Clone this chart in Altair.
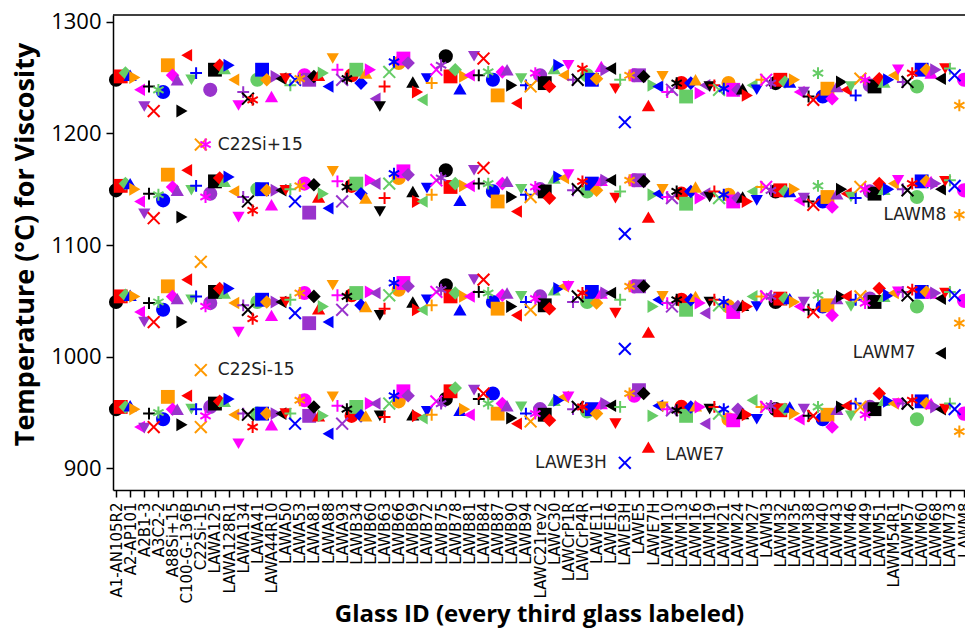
import json
import altair as alt
import pandas as pd

# ---------------- data ----------------
glass_ids = [
    "A1-AN105R2", "A2-AP101", "A2B1-3", "A3C2-2", "A88Si+15", "C100-G-136B", "C22Si-15",
    "LAWA125", "LAWA128R1", "LAWA134", "LAWA41", "LAWA44R10", "LAWA50", "LAWA53", "LAWA81",
    "LAWA88", "LAWA93", "LAWB34", "LAWB60", "LAWB63", "LAWB66", "LAWB69", "LAWB72", "LAWB75",
    "LAWB78", "LAWB81", "LAWB84", "LAWB87", "LAWB90", "LAWB94", "LAWC21rev2", "LAWC30",
    "LAWCrP1R", "LAWCrP4R", "LAWE11", "LAWE16", "LAWE3H", "LAWE5", "LAWE7H", "LAWM10",
    "LAWM13", "LAWM16", "LAWM19", "LAWM21", "LAWM24", "LAWM27", "LAWM3", "LAWM32", "LAWM35",
    "LAWM38", "LAWM40", "LAWM43", "LAWM46", "LAWM49", "LAWM51", "LAWM54R1", "LAWM57",
    "LAWM60", "LAWM68", "LAWM73", "LAWM8",
]

band1 = [
    1248, 1251, 1254, 1252, 1250, 1239, 1224, 1242, 1220, 1239,
    1237, 1261, 1252, 1248, 1220, 1270, 1248, 1254, 1190, 1190,
    1239, 1257, 1261, 1258, 1261, 1248, 1225, 1237, 1231, 1230,
    1248, 1257, 1248, 1233, 1251, 1249, 1249, 1243, 1248, 1249,
    1252, 1248, 1251, 1252, 1254, 1242, 1267, 1257, 1248, 1249,
    1252, 1257, 1245, 1254, 1257, 1231, 1224, 1242, 1255, 1264,
    1263, 1267, 1263, 1246, 1237, 1230, 1249, 1245, 1257, 1261,
    1269, 1251, 1257, 1240, 1251, 1252, 1269, 1252, 1267, 1255,
    1248, 1234, 1255, 1257, 1243, 1227, 1249, 1243, 1242, 1254,
    1252, 1245, 1242, 1258, 1261, 1252, 1261, 1248, 1248, 1258,
    1252, 1248, 1249, 1260, 1257, 1258, 1240, 1248, 1210, 1252,
    1252, 1252, 1251, 1225, 1243, 1242, 1251, 1237, 1239, 1245,
    1245, 1233, 1245, 1248, 1236, 1243, 1242, 1243, 1239, 1240,
    1245, 1239, 1239, 1240, 1234, 1243, 1239, 1248, 1248, 1245,
    1245, 1248, 1246, 1246, 1248, 1237, 1237, 1233, 1230, 1254,
    1233, 1240, 1231, 1242, 1246, 1239, 1242, 1234, 1249, 1248,
    1243, 1242, 1249, 1246, 1248, 1252, 1257, 1246, 1246, 1254,
    1242, 1257, 1257, 1254, 1257, 1249, 1258, 1258, 1252, 1225,
    1248,
]

band2 = [
    1149, 1153, 1155, 1155, 1150, 1139, 1128, 1146, 1124, 1145,
    1140, 1163, 1152, 1149, 1125, 1167, 1149, 1153, 1085, 1143,
    1146, 1157, 1160, 1157, 1161, 1148, 1125, 1143, 1139, 1131,
    1150, 1150, 1149, 1136, 1149, 1149, 1149, 1150, 1139, 1153,
    1155, 1129, 1154, 1143, 1146, 1133, 1166, 1157, 1139, 1152,
    1153, 1155, 1146, 1142, 1158, 1155, 1130, 1142, 1155, 1164,
    1160, 1166, 1163, 1148, 1139, 1139, 1151, 1145, 1158, 1160,
    1167, 1152, 1155, 1140, 1153, 1153, 1167, 1155, 1169, 1155,
    1148, 1139, 1155, 1157, 1143, 1130, 1150, 1145, 1143, 1152,
    1150, 1148, 1142, 1160, 1161, 1160, 1163, 1149, 1150, 1157,
    1148, 1155, 1149, 1158, 1158, 1158, 1142, 1148, 1110, 1158,
    1158, 1158, 1157, 1125, 1145, 1146, 1150, 1143, 1142, 1148,
    1146, 1137, 1148, 1152, 1142, 1146, 1143, 1148, 1142, 1145,
    1145, 1139, 1142, 1143, 1139, 1148, 1140, 1152, 1152, 1149,
    1148, 1149, 1148, 1148, 1150, 1140, 1142, 1139, 1136, 1153,
    1139, 1143, 1134, 1146, 1150, 1146, 1143, 1142, 1152, 1150,
    1148, 1146, 1155, 1150, 1150, 1155, 1158, 1150, 1149, 1155,
    1143, 1157, 1157, 1157, 1155, 1150, 1157, 1158, 1153, 1127,
    1149,
]

band3 = [
    1049, 1054, 1055, 1055, 1054, 1040, 1031, 1048, 1031, 1049,
    1042, 1063, 1054, 1052, 1031, 1069, 1051, 1054, 988, 1045,
    1048, 1058, 1061, 1057, 1061, 1048, 1022, 1046, 1042, 1034,
    1049, 1051, 1049, 1037, 1049, 1049, 1049, 1051, 1039, 1057,
    1057, 1030, 1054, 1043, 1045, 1031, 1064, 1055, 1042, 1054,
    1055, 1057, 1046, 1045, 1058, 1057, 1037, 1043, 1055, 1066,
    1060, 1066, 1063, 1049, 1042, 1042, 1051, 1046, 1058, 1060,
    1064, 1054, 1057, 1042, 1054, 1054, 1069, 1058, 1069, 1057,
    1049, 1043, 1055, 1057, 1045, 1037, 1054, 1049, 1042, 1052,
    1054, 1046, 1043, 1060, 1061, 1063, 1063, 1049, 1054, 1057,
    1049, 1058, 1048, 1057, 1057, 1057, 1039, 1051, 1007, 1063,
    1063, 1063, 1063, 1022, 1045, 1051, 1054, 1048, 1045, 1051,
    1051, 1042, 1051, 1054, 1048, 1039, 1049, 1051, 1046, 1049,
    1045, 1040, 1045, 1046, 1045, 1054, 1045, 1054, 1054, 1054,
    1049, 1052, 1052, 1052, 1049, 1045, 1049, 1042, 1040, 1055,
    1045, 1046, 1037, 1052, 1054, 1054, 1045, 1051, 1054, 1048,
    1052, 1049, 1061, 1054, 1055, 1057, 1058, 1058, 1055, 1060,
    1045, 1058, 1058, 1057, 1057, 1052, 1057, 1058, 1055, 1030,
    1050,
]

band4 = [
    953, 955, 955, 956, 953, 937, 936, 949, 937, 950,
    944, 964, 953, 953, 939, 965, 953, 953, 937, 947,
    955, 958, 960, 960, 962, 948, 922, 949, 948, 937,
    949, 949, 949, 939, 949, 949, 949, 949, 940, 961,
    961, 947, 955, 947, 947, 931, 964, 956, 940, 953,
    947, 955, 947, 947, 958, 958, 947, 946, 958, 965,
    960, 969, 965, 948, 947, 945, 951, 948, 960, 958,
    962, 969, 972, 952, 953, 948, 970, 962, 967, 958,
    967, 949, 958, 956, 945, 940, 955, 949, 942, 949,
    953, 948, 943, 961, 961, 964, 964, 953, 955, 955,
    951, 953, 949, 958, 958, 956, 940, 955, 905, 967,
    965, 970, 967, 919, 947, 956, 955, 953, 952, 952,
    955, 947, 955, 956, 955, 940, 953, 955, 949, 953,
    944, 943, 953, 949, 948, 961, 944, 955, 955, 956,
    953, 952, 953, 955, 949, 944, 953, 947, 947, 955,
    944, 948, 937, 953, 955, 956, 947, 958, 955, 948,
    955, 953, 967, 961, 960, 958, 958, 958, 958, 961,
    944, 960, 958, 958, 955, 953, 953, 958, 953, 933,
    949,
]

extra_glass = [175]
extra_temp = [1003]

label_text = ["C22Si+15", "C22Si-15", "LAWE3H", "LAWE7", "LAWM7", "LAWM8"]
label_glass = [18, 18, 108, 113, 175, 179]
label_temp = [1190, 988, 905, 919, 1003, 1127]

color_names = ["black", "red", "green", "blue", "orange", "magenta", "purple"]
shape_names = ["circle", "square", "diamond", "triangle-up", "triangle-right",
               "triangle-left", "triangle-down", "plus", "x", "asterisk"]

# ---------------- styles ----------------
color_hex = ["#000000", "#FF0000", "#66CC66", "#0000FF", "#FF9900", "#FF00FF", "#9933CC"]
shape_paths = ["circle", "square", "diamond", "triangle-up", "triangle-right",
               "triangle-left", "triangle-down",
               "M-1,0L1,0M0,-1L0,1",
               "M-1,-1L1,1M-1,1L1,-1",
               "M0,-1L0,1M-0.87,-0.5L0.87,0.5M-0.87,0.5L0.87,-0.5"]
solid_sizes = [200, 150, 230, 210, 210, 210, 210]
label_offsets = {"C22Si+15": (17, 0), "C22Si-15": (17, 0), "LAWE3H": (-18, 0),
                 "LAWE7": (17, 8), "LAWM7": (-25, 0), "LAWM8": (-13, 0)}

rows = []
for band in [band1, band2, band3, band4]:
    for i, v in enumerate(band):
        rows.append({"glass": i, "temp": v, "col": color_names[i % 7], "shp": shape_names[i % 10]})
for g, v in zip(extra_glass, extra_temp):
    rows.append({"glass": g, "temp": v, "col": color_names[g % 7], "shp": shape_names[g % 10]})
df = pd.DataFrame(rows)
solid_df = df[df["shp"].isin(shape_names[:7])]
line_df = df[df["shp"].isin(shape_names[7:])]

PW, PH = 852, 475
xscale = alt.Scale(domain=[-0.64, 180.2], nice=False, zero=False)
yscale = alt.Scale(domain=[880.6, 1306.0], nice=False, zero=False)
color_scale = alt.Scale(domain=color_names, range=color_hex)
shape_scale = alt.Scale(domain=shape_names, range=shape_paths)

label_expr = json.dumps(glass_ids) + "[round(datum.value / 3)]"

x_axis = alt.Axis(values=list(range(0, 181, 3)), labelExpr=label_expr,
                  labelAngle=270, labelFont="DejaVu Sans", labelFontSize=15,
                  labelColor="#000000", labelOverlap=False, labelFlush=False,
                  labelBound=False, labelPadding=5, tickSize=7, tickWidth=1.5,
                  tickColor="#000000", domainColor="#000000", domainWidth=1.5,
                  grid=False, title="Glass ID (every third glass labeled)",
                  titleFont="Open Sans", titleFontSize=24, titleFontWeight="bold",
                  titleColor="#000000", titleX=426, titleY=131,
                  titleBaseline="alphabetic", titleAlign="center")
y_axis = alt.Axis(values=[900, 1000, 1100, 1200, 1300], format="d", labelFont="Open Sans",
                  labelFontSize=22, labelColor="#000000", labelPadding=5,
                  tickSize=7, tickWidth=1.5, tickColor="#000000",
                  domainColor="#000000", domainWidth=1.5, grid=False,
                  title="Temperature (°C) for Viscosity", titleFont="Open Sans",
                  titleFontSize=27, titleFontWeight="bold", titleColor="#000000",
                  titleAngle=270, titleX=-88, titleY=229, titleAlign="center",
                  titleBaseline="middle")

X = alt.X("glass:Q", scale=xscale, axis=x_axis)
Y = alt.Y("temp:Q", scale=yscale, axis=y_axis)

solid = alt.Chart(solid_df).mark_point(filled=True, opacity=1, strokeWidth=0).encode(
    x=X, y=Y,
    color=alt.Color("col:N", scale=color_scale, legend=None),
    shape=alt.Shape("shp:N", scale=shape_scale, legend=None),
    size=alt.Size("shp:N", scale=alt.Scale(domain=shape_names[:7], range=solid_sizes), legend=None),
)

lines = alt.Chart(line_df).mark_point(filled=False, opacity=1, strokeWidth=2, size=140).encode(
    x=X, y=Y,
    color=alt.Color("col:N", scale=color_scale, legend=None),
    shape=alt.Shape("shp:N", scale=shape_scale, legend=None),
)

frame = alt.Chart(pd.DataFrame({"a": [0]})).mark_rule(color="#000000", strokeWidth=1.5).encode(
    x=alt.value(0), x2=alt.value(PW), y=alt.value(0)
)

layers = [solid, lines, frame]
for txt, g, v in zip(label_text, label_glass, label_temp):
    dx, dy = label_offsets[txt]
    ldf = pd.DataFrame({"glass": [g], "temp": [v], "txt": [txt]})
    layers.append(
        alt.Chart(ldf).mark_text(font="DejaVu Sans", fontSize=17, color="#222222",
                                 align="left" if dx > 0 else "right", baseline="middle",
                                 dx=dx, dy=dy).encode(x=X, y=Y, text="txt:N")
    )

chart = alt.layer(*layers).properties(
    width=PW, height=PH,
    autosize=alt.AutoSizeParams(type="none"),
    padding={"left": 113, "top": 15, "right": 0, "bottom": 138},
    background="#FFFFFF",
).configure_view(stroke=None)

chart.save("out.html", embed_options={"renderer": "svg", "actions": False})
